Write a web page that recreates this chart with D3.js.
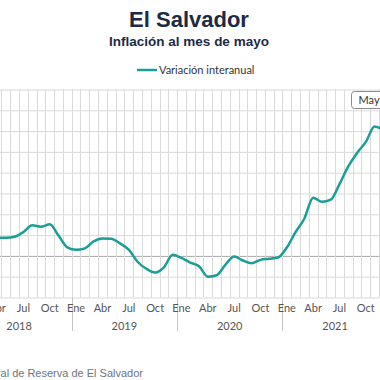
<!DOCTYPE html>
<html lang="es">
<head>
<meta charset="UTF-8">
<title>El Salvador - Inflación</title>
<script src="https://cdn.jsdelivr.net/npm/d3@7"></script>
<style>
  body { margin: 0; background: #fff; }
  svg { display: block; }
  .title { font-family: "Liberation Sans", Arial, sans-serif; font-weight: bold; fill: #1c2b45; }
  .lbl { font-family: Lato, "Noto Sans", sans-serif; font-size: 11px; fill: #555; }
  .grid line { stroke: #dadada; stroke-width: 1px; }
  .grid path { display: none; }
</style>
</head>
<body>
<script>
// month labels shown on the axis, year groups and the monthly series (Ene 2018 - Dic 2021)
var monthNames = ["Ene", "Feb", "Mar", "Abr", "May", "Jun", "Jul", "Ago", "Sep", "Oct", "Nov", "Dic"];
var shownMonths = ["Ene", "Abr", "Jul", "Oct"];
var years = [2018, 2019, 2020, 2021];
var inflation = [
  0.95, 0.98, 0.92, 0.88, 0.87, 0.92, 1.15, 1.47, 1.40, 1.52, 0.98, 0.41,
  0.29, 0.36, 0.70, 0.84, 0.83, 0.60, 0.30, -0.28, -0.62, -0.80, -0.55, 0.05,
  -0.10, -0.32, -0.50, -1.00, -0.93, -0.43, -0.03, -0.22, -0.35, -0.19, -0.14, -0.08,
  0.40, 1.15, 1.80, 2.80, 2.60, 2.70, 3.45, 4.30, 4.95, 5.48, 6.22, 6.05
];
var yTicks = [-2, -1, 0, 1, 2, 3, 4, 5, 6, 7, 8];

var W = 380, H = 380;
var svg = d3.select("body").append("svg").attr("width", W).attr("height", H);

// the chart is wider than the window: the plot starts left of the frame
var monthW = 8.78, plotLeft = -33.66;
var plotTop = 89.5, plotBottom = 297.5;
var n = inflation.length;
var nCols = n + 1; // plot runs a bit past the last point
var data = inflation.map(function(v, i) {
  return { i: i, month: monthNames[i % 12], year: years[Math.floor(i / 12)], value: v };
});

var x = d3.scaleBand().domain(d3.range(nCols)).range([plotLeft, plotLeft + nCols * monthW]).padding(0);
var y = d3.scaleLinear().domain([-2, 8]).range([plotBottom, plotTop]);
var cx = function(i) { return x(i) + x.bandwidth() / 2; };

// titles
svg.append("text").attr("class", "title").attr("x", 189).attr("y", 27)
  .attr("text-anchor", "middle").style("font-size", "22px").text("El Salvador");
svg.append("text").attr("class", "title").attr("x", 189).attr("y", 46)
  .attr("text-anchor", "middle").style("font-size", "13.5px").text("Inflación al mes de mayo");

// legend
svg.append("line").attr("x1", 137).attr("x2", 157).attr("y1", 70).attr("y2", 70)
  .attr("stroke", "#1b9e98").attr("stroke-width", 2.5);
svg.append("text").attr("class", "lbl").attr("x", 159).attr("y", 74)
  .style("fill", "#333").text("Variación interanual");

// horizontal grid
svg.append("g").attr("class", "grid")
  .attr("transform", "translate(" + plotLeft + ",0)")
  .call(d3.axisLeft(y).tickValues(yTicks).tickSize(-nCols * monthW).tickFormat(""))
  .selectAll("line")
  .style("stroke", function(d) { return d === 0 ? "#a8a8a8" : "#dadada"; });

// vertical grid, one line per month boundary
svg.append("g").attr("class", "grid")
  .selectAll("line").data(d3.range(nCols + 1)).enter().append("line")
  .attr("x1", function(i) { return Math.round(plotLeft + i * monthW) + 0.5; })
  .attr("x2", function(i) { return Math.round(plotLeft + i * monthW) + 0.5; })
  .attr("y1", plotTop).attr("y2", plotBottom);

// year separators below the plot
svg.append("g").selectAll("line").data(years).enter().append("line")
  .attr("x1", function(d, k) { return Math.round(x(k * 12)) + 0.5; })
  .attr("x2", function(d, k) { return Math.round(x(k * 12)) + 0.5; })
  .attr("y1", plotBottom).attr("y2", 331)
  .attr("stroke", "#c4c4c4");

// month labels
svg.append("g").selectAll("text")
  .data(data.filter(function(d) { return shownMonths.indexOf(d.month) >= 0; }))
  .enter().append("text").attr("class", "lbl")
  .attr("x", function(d) { return cx(d.i); }).attr("y", 312)
  .attr("text-anchor", "middle").text(function(d) { return d.month; });

// year labels
svg.append("g").selectAll("text").data(years).enter().append("text")
  .attr("class", "lbl")
  .attr("x", function(d, k) { return plotLeft + (k * 12 + 6) * monthW; })
  .attr("y", 329.5).attr("text-anchor", "middle")
  .text(function(d) { return d; });

// series line
var line = d3.line()
  .x(function(d) { return cx(d.i); })
  .y(function(d) { return y(d.value); })
  .curve(d3.curveMonotoneX);

svg.append("path").datum(data)
  .attr("fill", "none").attr("stroke", "#1b9e98").attr("stroke-width", 2.5)
  .attr("d", line);

// tooltip box cut by the right edge
var tip = svg.append("g").attr("transform", "translate(351.5,91.5)");
tip.append("rect").attr("width", 60).attr("height", 17).attr("rx", 3)
  .attr("fill", "#fff").attr("stroke", "#8a8a8a");
tip.append("text").attr("class", "lbl").attr("x", 7).attr("y", 12.5)
  .style("fill", "#333").text("May");

// source, starts left of the frame
svg.append("text").attr("x", 143).attr("y", 376.5).attr("text-anchor", "end")
  .style("font-family", "'Liberation Sans', Arial, sans-serif").style("font-size", "11px")
  .style("fill", "#6f7480").text("Fuente: Banco Central de Reserva de El Salvador");
</script>
</body>
</html>
